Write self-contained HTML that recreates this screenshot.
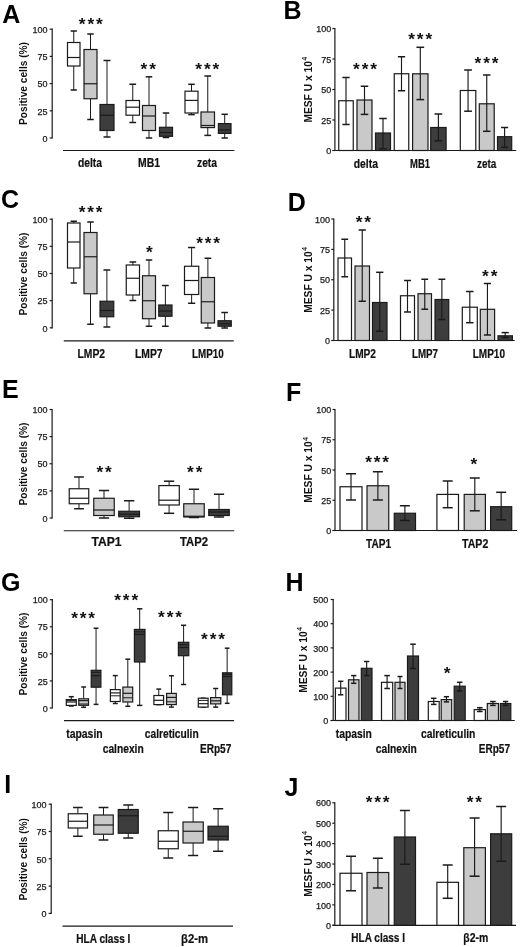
<!DOCTYPE html>
<html><head><meta charset="utf-8"><title>Figure</title>
<style>
html,body{margin:0;padding:0;background:#fff;}
body{width:520px;height:947px;overflow:hidden;}
svg{display:block;font-family:"Liberation Sans", sans-serif;will-change:transform;}
</style></head>
<body>
<svg width="520" height="947" viewBox="0 0 520 947" fill="#111">
<rect width="520" height="947" fill="#fff"/>
<text x="2.17" y="22.50" font-size="25.0" font-weight="bold" text-anchor="start" fill="#000">A</text>
<line x1="52.20" y1="28.60" x2="52.20" y2="138.60" stroke="#1a1a1a" stroke-width="1.2"/>
<line x1="49.70" y1="138.00" x2="52.20" y2="138.00" stroke="#1a1a1a" stroke-width="1.2"/>
<text x="47.60" y="141.70" font-size="9.0" font-weight="normal" text-anchor="end" fill="#1a1a1a" stroke="#1a1a1a" stroke-width="0.25">0</text>
<line x1="49.70" y1="110.80" x2="52.20" y2="110.80" stroke="#1a1a1a" stroke-width="1.2"/>
<text x="47.60" y="114.50" font-size="9.0" font-weight="normal" text-anchor="end" fill="#1a1a1a" stroke="#1a1a1a" stroke-width="0.25">25</text>
<line x1="49.70" y1="83.60" x2="52.20" y2="83.60" stroke="#1a1a1a" stroke-width="1.2"/>
<text x="47.60" y="87.30" font-size="9.0" font-weight="normal" text-anchor="end" fill="#1a1a1a" stroke="#1a1a1a" stroke-width="0.25">50</text>
<line x1="49.70" y1="56.40" x2="52.20" y2="56.40" stroke="#1a1a1a" stroke-width="1.2"/>
<text x="47.60" y="60.11" font-size="9.0" font-weight="normal" text-anchor="end" fill="#1a1a1a" stroke="#1a1a1a" stroke-width="0.25">75</text>
<line x1="49.70" y1="29.20" x2="52.20" y2="29.20" stroke="#1a1a1a" stroke-width="1.2"/>
<text x="47.60" y="32.91" font-size="9.0" font-weight="normal" text-anchor="end" fill="#1a1a1a" stroke="#1a1a1a" stroke-width="0.25">100</text>
<text transform="translate(27.30 125.00) rotate(-90)" x="0" y="0" font-size="10.2" font-weight="bold" textLength="83.00" lengthAdjust="spacingAndGlyphs">Positive cells (%)</text>
<line x1="63.00" y1="150.50" x2="234.40" y2="150.50" stroke="#1a1a1a" stroke-width="1.2"/>
<line x1="73.75" y1="31.00" x2="73.75" y2="42.50" stroke="#1a1a1a" stroke-width="1.0"/>
<line x1="73.75" y1="66.00" x2="73.75" y2="90.00" stroke="#1a1a1a" stroke-width="1.0"/>
<line x1="70.62" y1="31.00" x2="76.88" y2="31.00" stroke="#1a1a1a" stroke-width="1.5"/>
<line x1="70.62" y1="90.00" x2="76.88" y2="90.00" stroke="#1a1a1a" stroke-width="1.5"/>
<rect x="67.50" y="42.50" width="12.50" height="23.50" fill="#ffffff" stroke="#1a1a1a" stroke-width="1.2"/>
<line x1="67.50" y1="57.50" x2="80.00" y2="57.50" stroke="#1a1a1a" stroke-width="1.2"/>
<line x1="90.50" y1="34.00" x2="90.50" y2="49.50" stroke="#1a1a1a" stroke-width="1.0"/>
<line x1="90.50" y1="98.75" x2="90.50" y2="119.50" stroke="#1a1a1a" stroke-width="1.0"/>
<line x1="87.25" y1="34.00" x2="93.75" y2="34.00" stroke="#1a1a1a" stroke-width="1.5"/>
<line x1="87.25" y1="119.50" x2="93.75" y2="119.50" stroke="#1a1a1a" stroke-width="1.5"/>
<rect x="84.00" y="49.50" width="13.00" height="49.25" fill="#c9c9c9" stroke="#1a1a1a" stroke-width="1.2"/>
<line x1="84.00" y1="83.75" x2="97.00" y2="83.75" stroke="#1a1a1a" stroke-width="1.2"/>
<line x1="107.00" y1="60.50" x2="107.00" y2="104.50" stroke="#1a1a1a" stroke-width="1.0"/>
<line x1="107.00" y1="130.50" x2="107.00" y2="137.00" stroke="#1a1a1a" stroke-width="1.0"/>
<line x1="103.50" y1="60.50" x2="110.50" y2="60.50" stroke="#1a1a1a" stroke-width="1.5"/>
<line x1="103.50" y1="137.00" x2="110.50" y2="137.00" stroke="#1a1a1a" stroke-width="1.5"/>
<rect x="100.00" y="104.50" width="14.00" height="26.00" fill="#3d3d3d" stroke="#1a1a1a" stroke-width="1.2"/>
<line x1="100.00" y1="115.30" x2="114.00" y2="115.30" stroke="#1a1a1a" stroke-width="1.2"/>
<line x1="132.75" y1="84.25" x2="132.75" y2="100.50" stroke="#1a1a1a" stroke-width="1.0"/>
<line x1="132.75" y1="115.20" x2="132.75" y2="122.50" stroke="#1a1a1a" stroke-width="1.0"/>
<line x1="129.38" y1="84.25" x2="136.12" y2="84.25" stroke="#1a1a1a" stroke-width="1.5"/>
<line x1="129.38" y1="122.50" x2="136.12" y2="122.50" stroke="#1a1a1a" stroke-width="1.5"/>
<rect x="126.00" y="100.50" width="13.50" height="14.70" fill="#ffffff" stroke="#1a1a1a" stroke-width="1.2"/>
<line x1="126.00" y1="107.20" x2="139.50" y2="107.20" stroke="#1a1a1a" stroke-width="1.2"/>
<line x1="149.00" y1="76.80" x2="149.00" y2="105.50" stroke="#1a1a1a" stroke-width="1.0"/>
<line x1="149.00" y1="130.50" x2="149.00" y2="138.00" stroke="#1a1a1a" stroke-width="1.0"/>
<line x1="145.75" y1="76.80" x2="152.25" y2="76.80" stroke="#1a1a1a" stroke-width="1.5"/>
<line x1="145.75" y1="138.00" x2="152.25" y2="138.00" stroke="#1a1a1a" stroke-width="1.5"/>
<rect x="142.50" y="105.50" width="13.00" height="25.00" fill="#c9c9c9" stroke="#1a1a1a" stroke-width="1.2"/>
<line x1="142.50" y1="116.00" x2="155.50" y2="116.00" stroke="#1a1a1a" stroke-width="1.2"/>
<line x1="166.00" y1="113.00" x2="166.00" y2="127.30" stroke="#1a1a1a" stroke-width="1.0"/>
<line x1="166.00" y1="136.30" x2="166.00" y2="137.50" stroke="#1a1a1a" stroke-width="1.0"/>
<line x1="162.75" y1="113.00" x2="169.25" y2="113.00" stroke="#1a1a1a" stroke-width="1.5"/>
<line x1="162.75" y1="137.50" x2="169.25" y2="137.50" stroke="#1a1a1a" stroke-width="1.5"/>
<rect x="159.50" y="127.30" width="13.00" height="9.00" fill="#3d3d3d" stroke="#1a1a1a" stroke-width="1.2"/>
<line x1="159.50" y1="132.50" x2="172.50" y2="132.50" stroke="#1a1a1a" stroke-width="1.2"/>
<line x1="191.50" y1="84.30" x2="191.50" y2="91.20" stroke="#1a1a1a" stroke-width="1.0"/>
<line x1="191.50" y1="113.00" x2="191.50" y2="114.60" stroke="#1a1a1a" stroke-width="1.0"/>
<line x1="188.25" y1="84.30" x2="194.75" y2="84.30" stroke="#1a1a1a" stroke-width="1.5"/>
<line x1="188.25" y1="114.60" x2="194.75" y2="114.60" stroke="#1a1a1a" stroke-width="1.5"/>
<rect x="185.00" y="91.20" width="13.00" height="21.80" fill="#ffffff" stroke="#1a1a1a" stroke-width="1.2"/>
<line x1="185.00" y1="100.40" x2="198.00" y2="100.40" stroke="#1a1a1a" stroke-width="1.2"/>
<line x1="207.75" y1="76.00" x2="207.75" y2="112.00" stroke="#1a1a1a" stroke-width="1.0"/>
<line x1="207.75" y1="127.60" x2="207.75" y2="135.40" stroke="#1a1a1a" stroke-width="1.0"/>
<line x1="204.38" y1="76.00" x2="211.12" y2="76.00" stroke="#1a1a1a" stroke-width="1.5"/>
<line x1="204.38" y1="135.40" x2="211.12" y2="135.40" stroke="#1a1a1a" stroke-width="1.5"/>
<rect x="201.00" y="112.00" width="13.50" height="15.60" fill="#c9c9c9" stroke="#1a1a1a" stroke-width="1.2"/>
<line x1="201.00" y1="125.50" x2="214.50" y2="125.50" stroke="#1a1a1a" stroke-width="1.2"/>
<line x1="224.70" y1="114.30" x2="224.70" y2="123.60" stroke="#1a1a1a" stroke-width="1.0"/>
<line x1="224.70" y1="133.40" x2="224.70" y2="138.00" stroke="#1a1a1a" stroke-width="1.0"/>
<line x1="221.55" y1="114.30" x2="227.85" y2="114.30" stroke="#1a1a1a" stroke-width="1.5"/>
<line x1="221.55" y1="138.00" x2="227.85" y2="138.00" stroke="#1a1a1a" stroke-width="1.5"/>
<rect x="218.40" y="123.60" width="12.60" height="9.80" fill="#3d3d3d" stroke="#1a1a1a" stroke-width="1.2"/>
<line x1="218.40" y1="130.00" x2="231.00" y2="130.00" stroke="#1a1a1a" stroke-width="1.2"/>
<text x="78.78" y="30.39" font-size="17.3" font-weight="bold" fill="#111">*</text>
<text x="87.38" y="30.39" font-size="17.3" font-weight="bold" fill="#111">*</text>
<text x="95.98" y="30.39" font-size="17.3" font-weight="bold" fill="#111">*</text>
<text x="140.58" y="75.09" font-size="17.3" font-weight="bold" fill="#111">*</text>
<text x="149.18" y="75.09" font-size="17.3" font-weight="bold" fill="#111">*</text>
<text x="195.28" y="75.09" font-size="17.3" font-weight="bold" fill="#111">*</text>
<text x="203.88" y="75.09" font-size="17.3" font-weight="bold" fill="#111">*</text>
<text x="212.48" y="75.09" font-size="17.3" font-weight="bold" fill="#111">*</text>
<text x="283.62" y="19.40" font-size="25.0" font-weight="bold" text-anchor="start" fill="#000">B</text>
<line x1="334.90" y1="27.90" x2="334.90" y2="151.10" stroke="#1a1a1a" stroke-width="1.2"/>
<line x1="332.40" y1="150.50" x2="334.90" y2="150.50" stroke="#1a1a1a" stroke-width="1.2"/>
<text x="331.20" y="154.20" font-size="9.0" font-weight="normal" text-anchor="end" fill="#1a1a1a" stroke="#1a1a1a" stroke-width="0.25">0</text>
<line x1="332.40" y1="120.00" x2="334.90" y2="120.00" stroke="#1a1a1a" stroke-width="1.2"/>
<text x="331.20" y="123.70" font-size="9.0" font-weight="normal" text-anchor="end" fill="#1a1a1a" stroke="#1a1a1a" stroke-width="0.25">25</text>
<line x1="332.40" y1="89.50" x2="334.90" y2="89.50" stroke="#1a1a1a" stroke-width="1.2"/>
<text x="331.20" y="93.20" font-size="9.0" font-weight="normal" text-anchor="end" fill="#1a1a1a" stroke="#1a1a1a" stroke-width="0.25">50</text>
<line x1="332.40" y1="59.00" x2="334.90" y2="59.00" stroke="#1a1a1a" stroke-width="1.2"/>
<text x="331.20" y="62.70" font-size="9.0" font-weight="normal" text-anchor="end" fill="#1a1a1a" stroke="#1a1a1a" stroke-width="0.25">75</text>
<line x1="332.40" y1="28.50" x2="334.90" y2="28.50" stroke="#1a1a1a" stroke-width="1.2"/>
<text x="331.20" y="32.20" font-size="9.0" font-weight="normal" text-anchor="end" fill="#1a1a1a" stroke="#1a1a1a" stroke-width="0.25">100</text>
<g transform="translate(312.00 122.60) rotate(-90)"><text x="0" y="0" font-size="10.2" font-weight="bold" textLength="61.50" lengthAdjust="spacingAndGlyphs">MESF U x 10</text><text x="62.10" y="-4.60" font-size="6.5" font-weight="bold">4</text></g>
<line x1="332.50" y1="150.50" x2="516.20" y2="150.50" stroke="#1a1a1a" stroke-width="1.2"/>
<rect x="338.75" y="100.75" width="14.50" height="49.75" fill="#ffffff" stroke="#1a1a1a" stroke-width="1.2"/>
<line x1="346.00" y1="77.50" x2="346.00" y2="124.50" stroke="#1a1a1a" stroke-width="1.15"/>
<line x1="342.38" y1="77.50" x2="349.62" y2="77.50" stroke="#1a1a1a" stroke-width="1.5"/>
<line x1="342.38" y1="124.50" x2="349.62" y2="124.50" stroke="#1a1a1a" stroke-width="1.5"/>
<rect x="357.00" y="100.00" width="15.00" height="50.50" fill="#c9c9c9" stroke="#1a1a1a" stroke-width="1.2"/>
<line x1="364.50" y1="86.25" x2="364.50" y2="114.40" stroke="#1a1a1a" stroke-width="1.15"/>
<line x1="360.75" y1="86.25" x2="368.25" y2="86.25" stroke="#1a1a1a" stroke-width="1.5"/>
<line x1="360.75" y1="114.40" x2="368.25" y2="114.40" stroke="#1a1a1a" stroke-width="1.5"/>
<rect x="375.50" y="133.00" width="15.00" height="17.50" fill="#3d3d3d" stroke="#1a1a1a" stroke-width="1.2"/>
<line x1="383.00" y1="118.50" x2="383.00" y2="148.75" stroke="#1a1a1a" stroke-width="1.15"/>
<line x1="379.25" y1="118.50" x2="386.75" y2="118.50" stroke="#1a1a1a" stroke-width="1.5"/>
<line x1="379.25" y1="148.75" x2="386.75" y2="148.75" stroke="#1a1a1a" stroke-width="1.5"/>
<rect x="394.25" y="73.75" width="14.50" height="76.75" fill="#ffffff" stroke="#1a1a1a" stroke-width="1.2"/>
<line x1="401.50" y1="56.75" x2="401.50" y2="90.75" stroke="#1a1a1a" stroke-width="1.15"/>
<line x1="397.88" y1="56.75" x2="405.12" y2="56.75" stroke="#1a1a1a" stroke-width="1.5"/>
<line x1="397.88" y1="90.75" x2="405.12" y2="90.75" stroke="#1a1a1a" stroke-width="1.5"/>
<rect x="412.60" y="73.80" width="15.40" height="76.70" fill="#c9c9c9" stroke="#1a1a1a" stroke-width="1.2"/>
<line x1="420.30" y1="47.30" x2="420.30" y2="99.60" stroke="#1a1a1a" stroke-width="1.15"/>
<line x1="416.45" y1="47.30" x2="424.15" y2="47.30" stroke="#1a1a1a" stroke-width="1.5"/>
<line x1="416.45" y1="99.60" x2="424.15" y2="99.60" stroke="#1a1a1a" stroke-width="1.5"/>
<rect x="430.70" y="127.50" width="15.40" height="23.00" fill="#3d3d3d" stroke="#1a1a1a" stroke-width="1.2"/>
<line x1="438.40" y1="114.00" x2="438.40" y2="140.80" stroke="#1a1a1a" stroke-width="1.15"/>
<line x1="434.55" y1="114.00" x2="442.25" y2="114.00" stroke="#1a1a1a" stroke-width="1.5"/>
<line x1="434.55" y1="140.80" x2="442.25" y2="140.80" stroke="#1a1a1a" stroke-width="1.5"/>
<rect x="460.30" y="90.50" width="15.50" height="60.00" fill="#ffffff" stroke="#1a1a1a" stroke-width="1.2"/>
<line x1="468.05" y1="70.00" x2="468.05" y2="111.20" stroke="#1a1a1a" stroke-width="1.15"/>
<line x1="464.18" y1="70.00" x2="471.93" y2="70.00" stroke="#1a1a1a" stroke-width="1.5"/>
<line x1="464.18" y1="111.20" x2="471.93" y2="111.20" stroke="#1a1a1a" stroke-width="1.5"/>
<rect x="479.30" y="103.80" width="14.90" height="46.70" fill="#c9c9c9" stroke="#1a1a1a" stroke-width="1.2"/>
<line x1="486.75" y1="75.00" x2="486.75" y2="131.30" stroke="#1a1a1a" stroke-width="1.15"/>
<line x1="483.02" y1="75.00" x2="490.48" y2="75.00" stroke="#1a1a1a" stroke-width="1.5"/>
<line x1="483.02" y1="131.30" x2="490.48" y2="131.30" stroke="#1a1a1a" stroke-width="1.5"/>
<rect x="497.50" y="136.70" width="14.20" height="13.80" fill="#3d3d3d" stroke="#1a1a1a" stroke-width="1.2"/>
<line x1="504.60" y1="127.50" x2="504.60" y2="147.30" stroke="#1a1a1a" stroke-width="1.15"/>
<line x1="501.05" y1="127.50" x2="508.15" y2="127.50" stroke="#1a1a1a" stroke-width="1.5"/>
<line x1="501.05" y1="147.30" x2="508.15" y2="147.30" stroke="#1a1a1a" stroke-width="1.5"/>
<text x="353.03" y="75.09" font-size="17.3" font-weight="bold" fill="#111">*</text>
<text x="361.63" y="75.09" font-size="17.3" font-weight="bold" fill="#111">*</text>
<text x="370.23" y="75.09" font-size="17.3" font-weight="bold" fill="#111">*</text>
<text x="408.23" y="45.29" font-size="17.3" font-weight="bold" fill="#111">*</text>
<text x="416.83" y="45.29" font-size="17.3" font-weight="bold" fill="#111">*</text>
<text x="425.43" y="45.29" font-size="17.3" font-weight="bold" fill="#111">*</text>
<text x="474.53" y="69.39" font-size="17.3" font-weight="bold" fill="#111">*</text>
<text x="483.13" y="69.39" font-size="17.3" font-weight="bold" fill="#111">*</text>
<text x="491.73" y="69.39" font-size="17.3" font-weight="bold" fill="#111">*</text>
<text x="0.97" y="208.25" font-size="25.0" font-weight="bold" text-anchor="start" fill="#000">C</text>
<line x1="52.20" y1="218.60" x2="52.20" y2="328.40" stroke="#1a1a1a" stroke-width="1.2"/>
<line x1="49.70" y1="327.80" x2="52.20" y2="327.80" stroke="#1a1a1a" stroke-width="1.2"/>
<text x="47.60" y="331.51" font-size="9.0" font-weight="normal" text-anchor="end" fill="#1a1a1a" stroke="#1a1a1a" stroke-width="0.25">0</text>
<line x1="49.70" y1="300.65" x2="52.20" y2="300.65" stroke="#1a1a1a" stroke-width="1.2"/>
<text x="47.60" y="304.36" font-size="9.0" font-weight="normal" text-anchor="end" fill="#1a1a1a" stroke="#1a1a1a" stroke-width="0.25">25</text>
<line x1="49.70" y1="273.50" x2="52.20" y2="273.50" stroke="#1a1a1a" stroke-width="1.2"/>
<text x="47.60" y="277.21" font-size="9.0" font-weight="normal" text-anchor="end" fill="#1a1a1a" stroke="#1a1a1a" stroke-width="0.25">50</text>
<line x1="49.70" y1="246.35" x2="52.20" y2="246.35" stroke="#1a1a1a" stroke-width="1.2"/>
<text x="47.60" y="250.05" font-size="9.0" font-weight="normal" text-anchor="end" fill="#1a1a1a" stroke="#1a1a1a" stroke-width="0.25">75</text>
<line x1="49.70" y1="219.20" x2="52.20" y2="219.20" stroke="#1a1a1a" stroke-width="1.2"/>
<text x="47.60" y="222.90" font-size="9.0" font-weight="normal" text-anchor="end" fill="#1a1a1a" stroke="#1a1a1a" stroke-width="0.25">100</text>
<text transform="translate(27.30 315.50) rotate(-90)" x="0" y="0" font-size="10.2" font-weight="bold" textLength="83.00" lengthAdjust="spacingAndGlyphs">Positive cells (%)</text>
<line x1="63.75" y1="340.80" x2="233.75" y2="340.80" stroke="#1a1a1a" stroke-width="1.2"/>
<line x1="73.75" y1="221.25" x2="73.75" y2="223.00" stroke="#1a1a1a" stroke-width="1.0"/>
<line x1="73.75" y1="268.00" x2="73.75" y2="283.00" stroke="#1a1a1a" stroke-width="1.0"/>
<line x1="70.62" y1="221.25" x2="76.88" y2="221.25" stroke="#1a1a1a" stroke-width="1.5"/>
<line x1="70.62" y1="283.00" x2="76.88" y2="283.00" stroke="#1a1a1a" stroke-width="1.5"/>
<rect x="67.50" y="223.00" width="12.50" height="45.00" fill="#ffffff" stroke="#1a1a1a" stroke-width="1.2"/>
<line x1="67.50" y1="242.00" x2="80.00" y2="242.00" stroke="#1a1a1a" stroke-width="1.2"/>
<line x1="90.50" y1="222.00" x2="90.50" y2="232.50" stroke="#1a1a1a" stroke-width="1.0"/>
<line x1="90.50" y1="293.75" x2="90.50" y2="324.25" stroke="#1a1a1a" stroke-width="1.0"/>
<line x1="87.25" y1="222.00" x2="93.75" y2="222.00" stroke="#1a1a1a" stroke-width="1.5"/>
<line x1="87.25" y1="324.25" x2="93.75" y2="324.25" stroke="#1a1a1a" stroke-width="1.5"/>
<rect x="84.00" y="232.50" width="13.00" height="61.25" fill="#c9c9c9" stroke="#1a1a1a" stroke-width="1.2"/>
<line x1="84.00" y1="256.75" x2="97.00" y2="256.75" stroke="#1a1a1a" stroke-width="1.2"/>
<line x1="106.88" y1="270.00" x2="106.88" y2="301.25" stroke="#1a1a1a" stroke-width="1.0"/>
<line x1="106.88" y1="316.75" x2="106.88" y2="327.00" stroke="#1a1a1a" stroke-width="1.0"/>
<line x1="103.44" y1="270.00" x2="110.31" y2="270.00" stroke="#1a1a1a" stroke-width="1.5"/>
<line x1="103.44" y1="327.00" x2="110.31" y2="327.00" stroke="#1a1a1a" stroke-width="1.5"/>
<rect x="100.00" y="301.25" width="13.75" height="15.50" fill="#3d3d3d" stroke="#1a1a1a" stroke-width="1.2"/>
<line x1="100.00" y1="310.50" x2="113.75" y2="310.50" stroke="#1a1a1a" stroke-width="1.2"/>
<line x1="132.88" y1="262.00" x2="132.88" y2="265.00" stroke="#1a1a1a" stroke-width="1.0"/>
<line x1="132.88" y1="295.00" x2="132.88" y2="300.50" stroke="#1a1a1a" stroke-width="1.0"/>
<line x1="129.56" y1="262.00" x2="136.19" y2="262.00" stroke="#1a1a1a" stroke-width="1.5"/>
<line x1="129.56" y1="300.50" x2="136.19" y2="300.50" stroke="#1a1a1a" stroke-width="1.5"/>
<rect x="126.25" y="265.00" width="13.25" height="30.00" fill="#ffffff" stroke="#1a1a1a" stroke-width="1.2"/>
<line x1="126.25" y1="278.25" x2="139.50" y2="278.25" stroke="#1a1a1a" stroke-width="1.2"/>
<line x1="149.00" y1="260.00" x2="149.00" y2="275.75" stroke="#1a1a1a" stroke-width="1.0"/>
<line x1="149.00" y1="318.75" x2="149.00" y2="326.25" stroke="#1a1a1a" stroke-width="1.0"/>
<line x1="145.75" y1="260.00" x2="152.25" y2="260.00" stroke="#1a1a1a" stroke-width="1.5"/>
<line x1="145.75" y1="326.25" x2="152.25" y2="326.25" stroke="#1a1a1a" stroke-width="1.5"/>
<rect x="142.50" y="275.75" width="13.00" height="43.00" fill="#c9c9c9" stroke="#1a1a1a" stroke-width="1.2"/>
<line x1="142.50" y1="300.75" x2="155.50" y2="300.75" stroke="#1a1a1a" stroke-width="1.2"/>
<line x1="165.38" y1="285.50" x2="165.38" y2="305.00" stroke="#1a1a1a" stroke-width="1.0"/>
<line x1="165.38" y1="316.25" x2="165.38" y2="326.25" stroke="#1a1a1a" stroke-width="1.0"/>
<line x1="162.06" y1="285.50" x2="168.69" y2="285.50" stroke="#1a1a1a" stroke-width="1.5"/>
<line x1="162.06" y1="326.25" x2="168.69" y2="326.25" stroke="#1a1a1a" stroke-width="1.5"/>
<rect x="158.75" y="305.00" width="13.25" height="11.25" fill="#3d3d3d" stroke="#1a1a1a" stroke-width="1.2"/>
<line x1="158.75" y1="311.00" x2="172.00" y2="311.00" stroke="#1a1a1a" stroke-width="1.2"/>
<line x1="191.62" y1="247.50" x2="191.62" y2="266.25" stroke="#1a1a1a" stroke-width="1.0"/>
<line x1="191.62" y1="294.50" x2="191.62" y2="303.25" stroke="#1a1a1a" stroke-width="1.0"/>
<line x1="188.06" y1="247.50" x2="195.19" y2="247.50" stroke="#1a1a1a" stroke-width="1.5"/>
<line x1="188.06" y1="303.25" x2="195.19" y2="303.25" stroke="#1a1a1a" stroke-width="1.5"/>
<rect x="184.50" y="266.25" width="14.25" height="28.25" fill="#ffffff" stroke="#1a1a1a" stroke-width="1.2"/>
<line x1="184.50" y1="280.50" x2="198.75" y2="280.50" stroke="#1a1a1a" stroke-width="1.2"/>
<line x1="207.88" y1="258.25" x2="207.88" y2="277.50" stroke="#1a1a1a" stroke-width="1.0"/>
<line x1="207.88" y1="323.00" x2="207.88" y2="328.00" stroke="#1a1a1a" stroke-width="1.0"/>
<line x1="204.56" y1="258.25" x2="211.19" y2="258.25" stroke="#1a1a1a" stroke-width="1.5"/>
<line x1="204.56" y1="328.00" x2="211.19" y2="328.00" stroke="#1a1a1a" stroke-width="1.5"/>
<rect x="201.25" y="277.50" width="13.25" height="45.50" fill="#c9c9c9" stroke="#1a1a1a" stroke-width="1.2"/>
<line x1="201.25" y1="301.75" x2="214.50" y2="301.75" stroke="#1a1a1a" stroke-width="1.2"/>
<line x1="224.62" y1="312.50" x2="224.62" y2="320.75" stroke="#1a1a1a" stroke-width="1.0"/>
<line x1="224.62" y1="326.25" x2="224.62" y2="328.00" stroke="#1a1a1a" stroke-width="1.0"/>
<line x1="221.31" y1="312.50" x2="227.94" y2="312.50" stroke="#1a1a1a" stroke-width="1.5"/>
<line x1="221.31" y1="328.00" x2="227.94" y2="328.00" stroke="#1a1a1a" stroke-width="1.5"/>
<rect x="218.00" y="320.75" width="13.25" height="5.50" fill="#3d3d3d" stroke="#1a1a1a" stroke-width="1.2"/>
<line x1="218.00" y1="323.75" x2="231.25" y2="323.75" stroke="#1a1a1a" stroke-width="1.2"/>
<text x="78.63" y="218.39" font-size="17.3" font-weight="bold" fill="#111">*</text>
<text x="87.23" y="218.39" font-size="17.3" font-weight="bold" fill="#111">*</text>
<text x="95.83" y="218.39" font-size="17.3" font-weight="bold" fill="#111">*</text>
<text x="145.88" y="257.69" font-size="17.3" font-weight="bold" fill="#111">*</text>
<text x="196.13" y="249.09" font-size="17.3" font-weight="bold" fill="#111">*</text>
<text x="204.73" y="249.09" font-size="17.3" font-weight="bold" fill="#111">*</text>
<text x="213.33" y="249.09" font-size="17.3" font-weight="bold" fill="#111">*</text>
<text x="287.68" y="211.40" font-size="25.0" font-weight="bold" text-anchor="start" fill="#000">D</text>
<line x1="333.80" y1="218.40" x2="333.80" y2="341.10" stroke="#1a1a1a" stroke-width="1.2"/>
<line x1="331.30" y1="340.50" x2="333.80" y2="340.50" stroke="#1a1a1a" stroke-width="1.2"/>
<text x="330.10" y="344.21" font-size="9.0" font-weight="normal" text-anchor="end" fill="#1a1a1a" stroke="#1a1a1a" stroke-width="0.25">0</text>
<line x1="331.30" y1="310.12" x2="333.80" y2="310.12" stroke="#1a1a1a" stroke-width="1.2"/>
<text x="330.10" y="313.83" font-size="9.0" font-weight="normal" text-anchor="end" fill="#1a1a1a" stroke="#1a1a1a" stroke-width="0.25">25</text>
<line x1="331.30" y1="279.75" x2="333.80" y2="279.75" stroke="#1a1a1a" stroke-width="1.2"/>
<text x="330.10" y="283.46" font-size="9.0" font-weight="normal" text-anchor="end" fill="#1a1a1a" stroke="#1a1a1a" stroke-width="0.25">50</text>
<line x1="331.30" y1="249.38" x2="333.80" y2="249.38" stroke="#1a1a1a" stroke-width="1.2"/>
<text x="330.10" y="253.08" font-size="9.0" font-weight="normal" text-anchor="end" fill="#1a1a1a" stroke="#1a1a1a" stroke-width="0.25">75</text>
<line x1="331.30" y1="219.00" x2="333.80" y2="219.00" stroke="#1a1a1a" stroke-width="1.2"/>
<text x="330.10" y="222.70" font-size="9.0" font-weight="normal" text-anchor="end" fill="#1a1a1a" stroke="#1a1a1a" stroke-width="0.25">100</text>
<g transform="translate(312.00 312.80) rotate(-90)"><text x="0" y="0" font-size="10.2" font-weight="bold" textLength="61.50" lengthAdjust="spacingAndGlyphs">MESF U x 10</text><text x="62.10" y="-4.60" font-size="6.5" font-weight="bold">4</text></g>
<line x1="331.50" y1="340.50" x2="514.70" y2="340.50" stroke="#1a1a1a" stroke-width="1.2"/>
<rect x="338.00" y="258.00" width="13.50" height="82.50" fill="#ffffff" stroke="#1a1a1a" stroke-width="1.2"/>
<line x1="344.75" y1="239.25" x2="344.75" y2="276.75" stroke="#1a1a1a" stroke-width="1.15"/>
<line x1="341.38" y1="239.25" x2="348.12" y2="239.25" stroke="#1a1a1a" stroke-width="1.5"/>
<line x1="341.38" y1="276.75" x2="348.12" y2="276.75" stroke="#1a1a1a" stroke-width="1.5"/>
<rect x="355.00" y="266.00" width="14.50" height="74.50" fill="#c9c9c9" stroke="#1a1a1a" stroke-width="1.2"/>
<line x1="362.25" y1="230.00" x2="362.25" y2="301.25" stroke="#1a1a1a" stroke-width="1.15"/>
<line x1="358.62" y1="230.00" x2="365.88" y2="230.00" stroke="#1a1a1a" stroke-width="1.5"/>
<line x1="358.62" y1="301.25" x2="365.88" y2="301.25" stroke="#1a1a1a" stroke-width="1.5"/>
<rect x="372.50" y="302.50" width="14.50" height="38.00" fill="#3d3d3d" stroke="#1a1a1a" stroke-width="1.2"/>
<line x1="379.75" y1="272.30" x2="379.75" y2="331.25" stroke="#1a1a1a" stroke-width="1.15"/>
<line x1="376.12" y1="272.30" x2="383.38" y2="272.30" stroke="#1a1a1a" stroke-width="1.5"/>
<line x1="376.12" y1="331.25" x2="383.38" y2="331.25" stroke="#1a1a1a" stroke-width="1.5"/>
<rect x="400.50" y="295.75" width="14.00" height="44.75" fill="#ffffff" stroke="#1a1a1a" stroke-width="1.2"/>
<line x1="407.50" y1="280.50" x2="407.50" y2="312.00" stroke="#1a1a1a" stroke-width="1.15"/>
<line x1="404.00" y1="280.50" x2="411.00" y2="280.50" stroke="#1a1a1a" stroke-width="1.5"/>
<line x1="404.00" y1="312.00" x2="411.00" y2="312.00" stroke="#1a1a1a" stroke-width="1.5"/>
<rect x="418.00" y="293.75" width="13.50" height="46.75" fill="#c9c9c9" stroke="#1a1a1a" stroke-width="1.2"/>
<line x1="424.75" y1="279.25" x2="424.75" y2="309.25" stroke="#1a1a1a" stroke-width="1.15"/>
<line x1="421.38" y1="279.25" x2="428.12" y2="279.25" stroke="#1a1a1a" stroke-width="1.5"/>
<line x1="421.38" y1="309.25" x2="428.12" y2="309.25" stroke="#1a1a1a" stroke-width="1.5"/>
<rect x="435.00" y="299.50" width="13.75" height="41.00" fill="#3d3d3d" stroke="#1a1a1a" stroke-width="1.2"/>
<line x1="441.88" y1="279.25" x2="441.88" y2="319.50" stroke="#1a1a1a" stroke-width="1.15"/>
<line x1="438.44" y1="279.25" x2="445.31" y2="279.25" stroke="#1a1a1a" stroke-width="1.5"/>
<line x1="438.44" y1="319.50" x2="445.31" y2="319.50" stroke="#1a1a1a" stroke-width="1.5"/>
<rect x="462.30" y="307.20" width="15.00" height="33.30" fill="#ffffff" stroke="#1a1a1a" stroke-width="1.2"/>
<line x1="469.80" y1="291.50" x2="469.80" y2="322.70" stroke="#1a1a1a" stroke-width="1.15"/>
<line x1="466.05" y1="291.50" x2="473.55" y2="291.50" stroke="#1a1a1a" stroke-width="1.5"/>
<line x1="466.05" y1="322.70" x2="473.55" y2="322.70" stroke="#1a1a1a" stroke-width="1.5"/>
<rect x="480.30" y="309.30" width="14.30" height="31.20" fill="#c9c9c9" stroke="#1a1a1a" stroke-width="1.2"/>
<line x1="487.45" y1="283.50" x2="487.45" y2="335.00" stroke="#1a1a1a" stroke-width="1.15"/>
<line x1="483.88" y1="283.50" x2="491.03" y2="283.50" stroke="#1a1a1a" stroke-width="1.5"/>
<line x1="483.88" y1="335.00" x2="491.03" y2="335.00" stroke="#1a1a1a" stroke-width="1.5"/>
<rect x="498.00" y="335.80" width="14.40" height="4.70" fill="#3d3d3d" stroke="#1a1a1a" stroke-width="1.2"/>
<line x1="505.20" y1="332.60" x2="505.20" y2="337.50" stroke="#1a1a1a" stroke-width="1.15"/>
<line x1="501.60" y1="332.60" x2="508.80" y2="332.60" stroke="#1a1a1a" stroke-width="1.5"/>
<line x1="501.60" y1="337.50" x2="508.80" y2="337.50" stroke="#1a1a1a" stroke-width="1.5"/>
<text x="355.73" y="227.69" font-size="17.3" font-weight="bold" fill="#111">*</text>
<text x="364.33" y="227.69" font-size="17.3" font-weight="bold" fill="#111">*</text>
<text x="482.03" y="282.09" font-size="17.3" font-weight="bold" fill="#111">*</text>
<text x="490.63" y="282.09" font-size="17.3" font-weight="bold" fill="#111">*</text>
<text x="1.91" y="397.50" font-size="25.0" font-weight="bold" text-anchor="start" fill="#000">E</text>
<line x1="52.10" y1="408.90" x2="52.10" y2="518.60" stroke="#1a1a1a" stroke-width="1.2"/>
<line x1="49.60" y1="518.00" x2="52.10" y2="518.00" stroke="#1a1a1a" stroke-width="1.2"/>
<text x="47.50" y="521.71" font-size="9.0" font-weight="normal" text-anchor="end" fill="#1a1a1a" stroke="#1a1a1a" stroke-width="0.25">0</text>
<line x1="49.60" y1="490.88" x2="52.10" y2="490.88" stroke="#1a1a1a" stroke-width="1.2"/>
<text x="47.50" y="494.58" font-size="9.0" font-weight="normal" text-anchor="end" fill="#1a1a1a" stroke="#1a1a1a" stroke-width="0.25">25</text>
<line x1="49.60" y1="463.75" x2="52.10" y2="463.75" stroke="#1a1a1a" stroke-width="1.2"/>
<text x="47.50" y="467.46" font-size="9.0" font-weight="normal" text-anchor="end" fill="#1a1a1a" stroke="#1a1a1a" stroke-width="0.25">50</text>
<line x1="49.60" y1="436.62" x2="52.10" y2="436.62" stroke="#1a1a1a" stroke-width="1.2"/>
<text x="47.50" y="440.33" font-size="9.0" font-weight="normal" text-anchor="end" fill="#1a1a1a" stroke="#1a1a1a" stroke-width="0.25">75</text>
<line x1="49.60" y1="409.50" x2="52.10" y2="409.50" stroke="#1a1a1a" stroke-width="1.2"/>
<text x="47.50" y="413.21" font-size="9.0" font-weight="normal" text-anchor="end" fill="#1a1a1a" stroke="#1a1a1a" stroke-width="0.25">100</text>
<text transform="translate(27.30 505.50) rotate(-90)" x="0" y="0" font-size="10.2" font-weight="bold" textLength="83.00" lengthAdjust="spacingAndGlyphs">Positive cells (%)</text>
<line x1="63.75" y1="530.75" x2="234.25" y2="530.75" stroke="#1a1a1a" stroke-width="1.2"/>
<line x1="79.00" y1="477.00" x2="79.00" y2="488.75" stroke="#1a1a1a" stroke-width="1.0"/>
<line x1="79.00" y1="503.75" x2="79.00" y2="508.75" stroke="#1a1a1a" stroke-width="1.0"/>
<line x1="74.12" y1="477.00" x2="83.88" y2="477.00" stroke="#1a1a1a" stroke-width="1.5"/>
<line x1="74.12" y1="508.75" x2="83.88" y2="508.75" stroke="#1a1a1a" stroke-width="1.5"/>
<rect x="69.25" y="488.75" width="19.50" height="15.00" fill="#ffffff" stroke="#1a1a1a" stroke-width="1.2"/>
<line x1="69.25" y1="498.25" x2="88.75" y2="498.25" stroke="#1a1a1a" stroke-width="1.2"/>
<line x1="104.00" y1="490.50" x2="104.00" y2="498.25" stroke="#1a1a1a" stroke-width="1.0"/>
<line x1="104.00" y1="515.50" x2="104.00" y2="518.00" stroke="#1a1a1a" stroke-width="1.0"/>
<line x1="98.88" y1="490.50" x2="109.12" y2="490.50" stroke="#1a1a1a" stroke-width="1.5"/>
<line x1="98.88" y1="518.00" x2="109.12" y2="518.00" stroke="#1a1a1a" stroke-width="1.5"/>
<rect x="93.75" y="498.25" width="20.50" height="17.25" fill="#c9c9c9" stroke="#1a1a1a" stroke-width="1.2"/>
<line x1="93.75" y1="510.00" x2="114.25" y2="510.00" stroke="#1a1a1a" stroke-width="1.2"/>
<line x1="129.12" y1="500.75" x2="129.12" y2="511.25" stroke="#1a1a1a" stroke-width="1.0"/>
<line x1="129.12" y1="516.75" x2="129.12" y2="518.25" stroke="#1a1a1a" stroke-width="1.0"/>
<line x1="123.94" y1="500.75" x2="134.31" y2="500.75" stroke="#1a1a1a" stroke-width="1.5"/>
<line x1="123.94" y1="518.25" x2="134.31" y2="518.25" stroke="#1a1a1a" stroke-width="1.5"/>
<rect x="118.75" y="511.25" width="20.75" height="5.50" fill="#3d3d3d" stroke="#1a1a1a" stroke-width="1.2"/>
<line x1="118.75" y1="514.25" x2="139.50" y2="514.25" stroke="#1a1a1a" stroke-width="1.2"/>
<line x1="169.10" y1="481.20" x2="169.10" y2="485.60" stroke="#1a1a1a" stroke-width="1.0"/>
<line x1="169.10" y1="505.00" x2="169.10" y2="513.30" stroke="#1a1a1a" stroke-width="1.0"/>
<line x1="164.00" y1="481.20" x2="174.20" y2="481.20" stroke="#1a1a1a" stroke-width="1.5"/>
<line x1="164.00" y1="513.30" x2="174.20" y2="513.30" stroke="#1a1a1a" stroke-width="1.5"/>
<rect x="158.90" y="485.60" width="20.40" height="19.40" fill="#ffffff" stroke="#1a1a1a" stroke-width="1.2"/>
<line x1="158.90" y1="500.20" x2="179.30" y2="500.20" stroke="#1a1a1a" stroke-width="1.2"/>
<line x1="194.00" y1="489.25" x2="194.00" y2="503.75" stroke="#1a1a1a" stroke-width="1.0"/>
<line x1="194.00" y1="517.00" x2="194.00" y2="517.50" stroke="#1a1a1a" stroke-width="1.0"/>
<line x1="188.88" y1="489.25" x2="199.12" y2="489.25" stroke="#1a1a1a" stroke-width="1.5"/>
<line x1="188.88" y1="517.50" x2="199.12" y2="517.50" stroke="#1a1a1a" stroke-width="1.5"/>
<rect x="183.75" y="503.75" width="20.50" height="13.25" fill="#c9c9c9" stroke="#1a1a1a" stroke-width="1.2"/>
<line x1="183.75" y1="516.25" x2="204.25" y2="516.25" stroke="#1a1a1a" stroke-width="1.2"/>
<line x1="219.00" y1="494.25" x2="219.00" y2="509.50" stroke="#1a1a1a" stroke-width="1.0"/>
<line x1="219.00" y1="515.50" x2="219.00" y2="517.00" stroke="#1a1a1a" stroke-width="1.0"/>
<line x1="213.88" y1="494.25" x2="224.12" y2="494.25" stroke="#1a1a1a" stroke-width="1.5"/>
<line x1="213.88" y1="517.00" x2="224.12" y2="517.00" stroke="#1a1a1a" stroke-width="1.5"/>
<rect x="208.75" y="509.50" width="20.50" height="6.00" fill="#3d3d3d" stroke="#1a1a1a" stroke-width="1.2"/>
<line x1="208.75" y1="512.00" x2="229.25" y2="512.00" stroke="#1a1a1a" stroke-width="1.2"/>
<text x="96.43" y="477.69" font-size="17.3" font-weight="bold" fill="#111">*</text>
<text x="105.03" y="477.69" font-size="17.3" font-weight="bold" fill="#111">*</text>
<text x="187.08" y="477.69" font-size="17.3" font-weight="bold" fill="#111">*</text>
<text x="195.68" y="477.69" font-size="17.3" font-weight="bold" fill="#111">*</text>
<text x="285.91" y="400.90" font-size="25.0" font-weight="bold" text-anchor="start" fill="#000">F</text>
<line x1="335.00" y1="408.90" x2="335.00" y2="531.10" stroke="#1a1a1a" stroke-width="1.2"/>
<line x1="332.50" y1="530.50" x2="335.00" y2="530.50" stroke="#1a1a1a" stroke-width="1.2"/>
<text x="331.30" y="534.21" font-size="9.0" font-weight="normal" text-anchor="end" fill="#1a1a1a" stroke="#1a1a1a" stroke-width="0.25">0</text>
<line x1="332.50" y1="500.25" x2="335.00" y2="500.25" stroke="#1a1a1a" stroke-width="1.2"/>
<text x="331.30" y="503.96" font-size="9.0" font-weight="normal" text-anchor="end" fill="#1a1a1a" stroke="#1a1a1a" stroke-width="0.25">25</text>
<line x1="332.50" y1="470.00" x2="335.00" y2="470.00" stroke="#1a1a1a" stroke-width="1.2"/>
<text x="331.30" y="473.71" font-size="9.0" font-weight="normal" text-anchor="end" fill="#1a1a1a" stroke="#1a1a1a" stroke-width="0.25">50</text>
<line x1="332.50" y1="439.75" x2="335.00" y2="439.75" stroke="#1a1a1a" stroke-width="1.2"/>
<text x="331.30" y="443.46" font-size="9.0" font-weight="normal" text-anchor="end" fill="#1a1a1a" stroke="#1a1a1a" stroke-width="0.25">75</text>
<line x1="332.50" y1="409.50" x2="335.00" y2="409.50" stroke="#1a1a1a" stroke-width="1.2"/>
<text x="331.30" y="413.21" font-size="9.0" font-weight="normal" text-anchor="end" fill="#1a1a1a" stroke="#1a1a1a" stroke-width="0.25">100</text>
<g transform="translate(312.30 502.80) rotate(-90)"><text x="0" y="0" font-size="10.2" font-weight="bold" textLength="61.50" lengthAdjust="spacingAndGlyphs">MESF U x 10</text><text x="62.10" y="-4.60" font-size="6.5" font-weight="bold">4</text></g>
<line x1="332.50" y1="530.50" x2="517.00" y2="530.50" stroke="#1a1a1a" stroke-width="1.2"/>
<rect x="340.00" y="486.75" width="22.00" height="43.75" fill="#ffffff" stroke="#1a1a1a" stroke-width="1.2"/>
<line x1="351.00" y1="473.75" x2="351.00" y2="500.00" stroke="#1a1a1a" stroke-width="1.15"/>
<line x1="346.00" y1="473.75" x2="356.00" y2="473.75" stroke="#1a1a1a" stroke-width="1.5"/>
<line x1="346.00" y1="500.00" x2="356.00" y2="500.00" stroke="#1a1a1a" stroke-width="1.5"/>
<rect x="367.00" y="485.75" width="21.75" height="44.75" fill="#c9c9c9" stroke="#1a1a1a" stroke-width="1.2"/>
<line x1="377.88" y1="471.75" x2="377.88" y2="500.00" stroke="#1a1a1a" stroke-width="1.15"/>
<line x1="372.88" y1="471.75" x2="382.88" y2="471.75" stroke="#1a1a1a" stroke-width="1.5"/>
<line x1="372.88" y1="500.00" x2="382.88" y2="500.00" stroke="#1a1a1a" stroke-width="1.5"/>
<rect x="394.25" y="513.25" width="21.25" height="17.25" fill="#3d3d3d" stroke="#1a1a1a" stroke-width="1.2"/>
<line x1="404.88" y1="505.75" x2="404.88" y2="520.50" stroke="#1a1a1a" stroke-width="1.15"/>
<line x1="399.88" y1="505.75" x2="409.88" y2="505.75" stroke="#1a1a1a" stroke-width="1.5"/>
<line x1="399.88" y1="520.50" x2="409.88" y2="520.50" stroke="#1a1a1a" stroke-width="1.5"/>
<rect x="436.90" y="494.40" width="21.60" height="36.10" fill="#ffffff" stroke="#1a1a1a" stroke-width="1.2"/>
<line x1="447.70" y1="481.00" x2="447.70" y2="507.70" stroke="#1a1a1a" stroke-width="1.15"/>
<line x1="442.70" y1="481.00" x2="452.70" y2="481.00" stroke="#1a1a1a" stroke-width="1.5"/>
<line x1="442.70" y1="507.70" x2="452.70" y2="507.70" stroke="#1a1a1a" stroke-width="1.5"/>
<rect x="464.20" y="494.40" width="21.20" height="36.10" fill="#c9c9c9" stroke="#1a1a1a" stroke-width="1.2"/>
<line x1="474.80" y1="478.00" x2="474.80" y2="510.80" stroke="#1a1a1a" stroke-width="1.15"/>
<line x1="469.80" y1="478.00" x2="479.80" y2="478.00" stroke="#1a1a1a" stroke-width="1.5"/>
<line x1="469.80" y1="510.80" x2="479.80" y2="510.80" stroke="#1a1a1a" stroke-width="1.5"/>
<rect x="490.60" y="506.70" width="21.10" height="23.80" fill="#3d3d3d" stroke="#1a1a1a" stroke-width="1.2"/>
<line x1="501.15" y1="492.30" x2="501.15" y2="519.80" stroke="#1a1a1a" stroke-width="1.15"/>
<line x1="496.15" y1="492.30" x2="506.15" y2="492.30" stroke="#1a1a1a" stroke-width="1.5"/>
<line x1="496.15" y1="519.80" x2="506.15" y2="519.80" stroke="#1a1a1a" stroke-width="1.5"/>
<text x="365.13" y="467.89" font-size="17.3" font-weight="bold" fill="#111">*</text>
<text x="373.73" y="467.89" font-size="17.3" font-weight="bold" fill="#111">*</text>
<text x="382.33" y="467.89" font-size="17.3" font-weight="bold" fill="#111">*</text>
<text x="470.48" y="469.79" font-size="17.3" font-weight="bold" fill="#111">*</text>
<text x="0.93" y="590.95" font-size="25.0" font-weight="bold" text-anchor="start" fill="#000">G</text>
<line x1="52.30" y1="599.10" x2="52.30" y2="708.60" stroke="#1a1a1a" stroke-width="1.2"/>
<line x1="49.80" y1="708.00" x2="52.30" y2="708.00" stroke="#1a1a1a" stroke-width="1.2"/>
<text x="47.70" y="711.71" font-size="9.0" font-weight="normal" text-anchor="end" fill="#1a1a1a" stroke="#1a1a1a" stroke-width="0.25">0</text>
<line x1="49.80" y1="680.92" x2="52.30" y2="680.92" stroke="#1a1a1a" stroke-width="1.2"/>
<text x="47.70" y="684.63" font-size="9.0" font-weight="normal" text-anchor="end" fill="#1a1a1a" stroke="#1a1a1a" stroke-width="0.25">25</text>
<line x1="49.80" y1="653.85" x2="52.30" y2="653.85" stroke="#1a1a1a" stroke-width="1.2"/>
<text x="47.70" y="657.56" font-size="9.0" font-weight="normal" text-anchor="end" fill="#1a1a1a" stroke="#1a1a1a" stroke-width="0.25">50</text>
<line x1="49.80" y1="626.78" x2="52.30" y2="626.78" stroke="#1a1a1a" stroke-width="1.2"/>
<text x="47.70" y="630.48" font-size="9.0" font-weight="normal" text-anchor="end" fill="#1a1a1a" stroke="#1a1a1a" stroke-width="0.25">75</text>
<line x1="49.80" y1="599.70" x2="52.30" y2="599.70" stroke="#1a1a1a" stroke-width="1.2"/>
<text x="47.70" y="603.41" font-size="9.0" font-weight="normal" text-anchor="end" fill="#1a1a1a" stroke="#1a1a1a" stroke-width="0.25">100</text>
<text transform="translate(27.30 695.50) rotate(-90)" x="0" y="0" font-size="10.2" font-weight="bold" textLength="83.00" lengthAdjust="spacingAndGlyphs">Positive cells (%)</text>
<line x1="64.00" y1="720.60" x2="234.00" y2="720.60" stroke="#1a1a1a" stroke-width="1.2"/>
<line x1="71.30" y1="696.70" x2="71.30" y2="699.60" stroke="#1a1a1a" stroke-width="1.0"/>
<line x1="71.30" y1="705.40" x2="71.30" y2="706.00" stroke="#1a1a1a" stroke-width="1.0"/>
<line x1="68.80" y1="696.70" x2="73.80" y2="696.70" stroke="#1a1a1a" stroke-width="1.5"/>
<line x1="68.80" y1="706.00" x2="73.80" y2="706.00" stroke="#1a1a1a" stroke-width="1.5"/>
<rect x="66.30" y="699.60" width="10.00" height="5.80" fill="#ffffff" stroke="#1a1a1a" stroke-width="1.2"/>
<line x1="66.30" y1="702.00" x2="76.30" y2="702.00" stroke="#1a1a1a" stroke-width="1.2"/>
<line x1="66.30" y1="700.60" x2="76.30" y2="700.60" stroke="#1a1a1a" stroke-width="1.0"/>
<line x1="83.65" y1="687.00" x2="83.65" y2="698.80" stroke="#1a1a1a" stroke-width="1.0"/>
<line x1="83.65" y1="705.30" x2="83.65" y2="707.30" stroke="#1a1a1a" stroke-width="1.0"/>
<line x1="81.23" y1="687.00" x2="86.08" y2="687.00" stroke="#1a1a1a" stroke-width="1.5"/>
<line x1="81.23" y1="707.30" x2="86.08" y2="707.30" stroke="#1a1a1a" stroke-width="1.5"/>
<rect x="78.80" y="698.80" width="9.70" height="6.50" fill="#c9c9c9" stroke="#1a1a1a" stroke-width="1.2"/>
<line x1="78.80" y1="700.60" x2="88.50" y2="700.60" stroke="#1a1a1a" stroke-width="1.2"/>
<line x1="78.80" y1="704.00" x2="88.50" y2="704.00" stroke="#1a1a1a" stroke-width="1.0"/>
<line x1="96.05" y1="628.25" x2="96.05" y2="670.30" stroke="#1a1a1a" stroke-width="1.0"/>
<line x1="96.05" y1="687.20" x2="96.05" y2="704.40" stroke="#1a1a1a" stroke-width="1.0"/>
<line x1="93.63" y1="628.25" x2="98.48" y2="628.25" stroke="#1a1a1a" stroke-width="1.5"/>
<line x1="93.63" y1="704.40" x2="98.48" y2="704.40" stroke="#1a1a1a" stroke-width="1.5"/>
<rect x="91.20" y="670.30" width="9.70" height="16.90" fill="#3d3d3d" stroke="#1a1a1a" stroke-width="1.2"/>
<line x1="91.20" y1="675.70" x2="100.90" y2="675.70" stroke="#1a1a1a" stroke-width="1.2"/>
<line x1="91.20" y1="672.30" x2="100.90" y2="672.30" stroke="#1a1a1a" stroke-width="1.0"/>
<line x1="115.30" y1="675.60" x2="115.30" y2="689.60" stroke="#1a1a1a" stroke-width="1.0"/>
<line x1="115.30" y1="701.50" x2="115.30" y2="703.50" stroke="#1a1a1a" stroke-width="1.0"/>
<line x1="112.85" y1="675.60" x2="117.75" y2="675.60" stroke="#1a1a1a" stroke-width="1.5"/>
<line x1="112.85" y1="703.50" x2="117.75" y2="703.50" stroke="#1a1a1a" stroke-width="1.5"/>
<rect x="110.40" y="689.60" width="9.80" height="11.90" fill="#ffffff" stroke="#1a1a1a" stroke-width="1.2"/>
<line x1="110.40" y1="692.90" x2="120.20" y2="692.90" stroke="#1a1a1a" stroke-width="1.2"/>
<line x1="110.40" y1="695.80" x2="120.20" y2="695.80" stroke="#1a1a1a" stroke-width="1.0"/>
<line x1="127.80" y1="659.20" x2="127.80" y2="687.10" stroke="#1a1a1a" stroke-width="1.0"/>
<line x1="127.80" y1="702.00" x2="127.80" y2="706.30" stroke="#1a1a1a" stroke-width="1.0"/>
<line x1="125.35" y1="659.20" x2="130.25" y2="659.20" stroke="#1a1a1a" stroke-width="1.5"/>
<line x1="125.35" y1="706.30" x2="130.25" y2="706.30" stroke="#1a1a1a" stroke-width="1.5"/>
<rect x="122.90" y="687.10" width="9.80" height="14.90" fill="#c9c9c9" stroke="#1a1a1a" stroke-width="1.2"/>
<line x1="122.90" y1="693.30" x2="132.70" y2="693.30" stroke="#1a1a1a" stroke-width="1.2"/>
<line x1="122.90" y1="697.80" x2="132.70" y2="697.80" stroke="#1a1a1a" stroke-width="1.0"/>
<line x1="139.70" y1="608.80" x2="139.70" y2="629.40" stroke="#1a1a1a" stroke-width="1.0"/>
<line x1="139.70" y1="662.00" x2="139.70" y2="705.40" stroke="#1a1a1a" stroke-width="1.0"/>
<line x1="137.05" y1="608.80" x2="142.35" y2="608.80" stroke="#1a1a1a" stroke-width="1.5"/>
<line x1="137.05" y1="705.40" x2="142.35" y2="705.40" stroke="#1a1a1a" stroke-width="1.5"/>
<rect x="134.40" y="629.40" width="10.60" height="32.60" fill="#3d3d3d" stroke="#1a1a1a" stroke-width="1.2"/>
<line x1="134.40" y1="634.40" x2="145.00" y2="634.40" stroke="#1a1a1a" stroke-width="1.2"/>
<line x1="134.40" y1="631.80" x2="145.00" y2="631.80" stroke="#1a1a1a" stroke-width="1.0"/>
<line x1="158.75" y1="689.10" x2="158.75" y2="695.50" stroke="#1a1a1a" stroke-width="1.0"/>
<line x1="158.75" y1="704.60" x2="158.75" y2="704.60" stroke="#1a1a1a" stroke-width="1.0"/>
<line x1="156.32" y1="689.10" x2="161.18" y2="689.10" stroke="#1a1a1a" stroke-width="1.5"/>
<line x1="156.32" y1="704.60" x2="161.18" y2="704.60" stroke="#1a1a1a" stroke-width="1.5"/>
<rect x="153.90" y="695.50" width="9.70" height="9.10" fill="#ffffff" stroke="#1a1a1a" stroke-width="1.2"/>
<line x1="153.90" y1="700.30" x2="163.60" y2="700.30" stroke="#1a1a1a" stroke-width="1.2"/>
<line x1="171.45" y1="675.80" x2="171.45" y2="693.40" stroke="#1a1a1a" stroke-width="1.0"/>
<line x1="171.45" y1="704.60" x2="171.45" y2="707.10" stroke="#1a1a1a" stroke-width="1.0"/>
<line x1="169.02" y1="675.80" x2="173.88" y2="675.80" stroke="#1a1a1a" stroke-width="1.5"/>
<line x1="169.02" y1="707.10" x2="173.88" y2="707.10" stroke="#1a1a1a" stroke-width="1.5"/>
<rect x="166.60" y="693.40" width="9.70" height="11.20" fill="#c9c9c9" stroke="#1a1a1a" stroke-width="1.2"/>
<line x1="166.60" y1="697.40" x2="176.30" y2="697.40" stroke="#1a1a1a" stroke-width="1.2"/>
<line x1="166.60" y1="701.80" x2="176.30" y2="701.80" stroke="#1a1a1a" stroke-width="1.0"/>
<line x1="183.60" y1="625.30" x2="183.60" y2="642.30" stroke="#1a1a1a" stroke-width="1.0"/>
<line x1="183.60" y1="655.70" x2="183.60" y2="684.50" stroke="#1a1a1a" stroke-width="1.0"/>
<line x1="181.00" y1="625.30" x2="186.20" y2="625.30" stroke="#1a1a1a" stroke-width="1.5"/>
<line x1="181.00" y1="684.50" x2="186.20" y2="684.50" stroke="#1a1a1a" stroke-width="1.5"/>
<rect x="178.40" y="642.30" width="10.40" height="13.40" fill="#3d3d3d" stroke="#1a1a1a" stroke-width="1.2"/>
<line x1="178.40" y1="647.50" x2="188.80" y2="647.50" stroke="#1a1a1a" stroke-width="1.2"/>
<line x1="178.40" y1="644.70" x2="188.80" y2="644.70" stroke="#1a1a1a" stroke-width="1.0"/>
<line x1="203.20" y1="698.20" x2="203.20" y2="698.20" stroke="#1a1a1a" stroke-width="1.0"/>
<line x1="203.20" y1="707.10" x2="203.20" y2="707.10" stroke="#1a1a1a" stroke-width="1.0"/>
<line x1="200.75" y1="698.20" x2="205.65" y2="698.20" stroke="#1a1a1a" stroke-width="1.5"/>
<line x1="200.75" y1="707.10" x2="205.65" y2="707.10" stroke="#1a1a1a" stroke-width="1.5"/>
<rect x="198.30" y="698.20" width="9.80" height="8.90" fill="#ffffff" stroke="#1a1a1a" stroke-width="1.2"/>
<line x1="198.30" y1="703.70" x2="208.10" y2="703.70" stroke="#1a1a1a" stroke-width="1.2"/>
<line x1="198.30" y1="700.40" x2="208.10" y2="700.40" stroke="#1a1a1a" stroke-width="1.0"/>
<line x1="215.70" y1="688.50" x2="215.70" y2="697.60" stroke="#1a1a1a" stroke-width="1.0"/>
<line x1="215.70" y1="703.90" x2="215.70" y2="707.10" stroke="#1a1a1a" stroke-width="1.0"/>
<line x1="213.15" y1="688.50" x2="218.25" y2="688.50" stroke="#1a1a1a" stroke-width="1.5"/>
<line x1="213.15" y1="707.10" x2="218.25" y2="707.10" stroke="#1a1a1a" stroke-width="1.5"/>
<rect x="210.60" y="697.60" width="10.20" height="6.30" fill="#c9c9c9" stroke="#1a1a1a" stroke-width="1.2"/>
<line x1="210.60" y1="700.80" x2="220.80" y2="700.80" stroke="#1a1a1a" stroke-width="1.2"/>
<line x1="227.15" y1="648.20" x2="227.15" y2="672.80" stroke="#1a1a1a" stroke-width="1.0"/>
<line x1="227.15" y1="694.80" x2="227.15" y2="703.30" stroke="#1a1a1a" stroke-width="1.0"/>
<line x1="224.82" y1="648.20" x2="229.48" y2="648.20" stroke="#1a1a1a" stroke-width="1.5"/>
<line x1="224.82" y1="703.30" x2="229.48" y2="703.30" stroke="#1a1a1a" stroke-width="1.5"/>
<rect x="222.50" y="672.80" width="9.30" height="22.00" fill="#3d3d3d" stroke="#1a1a1a" stroke-width="1.2"/>
<line x1="222.50" y1="676.50" x2="231.80" y2="676.50" stroke="#1a1a1a" stroke-width="1.2"/>
<line x1="222.50" y1="674.30" x2="231.80" y2="674.30" stroke="#1a1a1a" stroke-width="1.0"/>
<text x="71.13" y="623.79" font-size="17.3" font-weight="bold" fill="#111">*</text>
<text x="79.73" y="623.79" font-size="17.3" font-weight="bold" fill="#111">*</text>
<text x="88.33" y="623.79" font-size="17.3" font-weight="bold" fill="#111">*</text>
<text x="114.18" y="606.39" font-size="17.3" font-weight="bold" fill="#111">*</text>
<text x="122.78" y="606.39" font-size="17.3" font-weight="bold" fill="#111">*</text>
<text x="131.38" y="606.39" font-size="17.3" font-weight="bold" fill="#111">*</text>
<text x="158.03" y="623.29" font-size="17.3" font-weight="bold" fill="#111">*</text>
<text x="166.63" y="623.29" font-size="17.3" font-weight="bold" fill="#111">*</text>
<text x="175.23" y="623.29" font-size="17.3" font-weight="bold" fill="#111">*</text>
<text x="201.03" y="645.29" font-size="17.3" font-weight="bold" fill="#111">*</text>
<text x="209.63" y="645.29" font-size="17.3" font-weight="bold" fill="#111">*</text>
<text x="218.23" y="645.29" font-size="17.3" font-weight="bold" fill="#111">*</text>
<text x="285.52" y="591.30" font-size="25.0" font-weight="bold" text-anchor="start" fill="#000">H</text>
<line x1="333.20" y1="598.90" x2="333.20" y2="721.10" stroke="#1a1a1a" stroke-width="1.2"/>
<line x1="330.70" y1="720.50" x2="333.20" y2="720.50" stroke="#1a1a1a" stroke-width="1.2"/>
<text x="328.20" y="724.21" font-size="9.0" font-weight="normal" text-anchor="end" fill="#1a1a1a" stroke="#1a1a1a" stroke-width="0.25">0</text>
<line x1="330.70" y1="696.30" x2="333.20" y2="696.30" stroke="#1a1a1a" stroke-width="1.2"/>
<text x="328.20" y="700.00" font-size="9.0" font-weight="normal" text-anchor="end" fill="#1a1a1a" stroke="#1a1a1a" stroke-width="0.25">100</text>
<line x1="330.70" y1="672.10" x2="333.20" y2="672.10" stroke="#1a1a1a" stroke-width="1.2"/>
<text x="328.20" y="675.81" font-size="9.0" font-weight="normal" text-anchor="end" fill="#1a1a1a" stroke="#1a1a1a" stroke-width="0.25">200</text>
<line x1="330.70" y1="647.90" x2="333.20" y2="647.90" stroke="#1a1a1a" stroke-width="1.2"/>
<text x="328.20" y="651.61" font-size="9.0" font-weight="normal" text-anchor="end" fill="#1a1a1a" stroke="#1a1a1a" stroke-width="0.25">300</text>
<line x1="330.70" y1="623.70" x2="333.20" y2="623.70" stroke="#1a1a1a" stroke-width="1.2"/>
<text x="328.20" y="627.41" font-size="9.0" font-weight="normal" text-anchor="end" fill="#1a1a1a" stroke="#1a1a1a" stroke-width="0.25">400</text>
<line x1="330.70" y1="599.50" x2="333.20" y2="599.50" stroke="#1a1a1a" stroke-width="1.2"/>
<text x="328.20" y="603.21" font-size="9.0" font-weight="normal" text-anchor="end" fill="#1a1a1a" stroke="#1a1a1a" stroke-width="0.25">500</text>
<g transform="translate(306.50 692.80) rotate(-90)"><text x="0" y="0" font-size="10.2" font-weight="bold" textLength="61.50" lengthAdjust="spacingAndGlyphs">MESF U x 10</text><text x="62.10" y="-4.60" font-size="6.5" font-weight="bold">4</text></g>
<line x1="330.50" y1="720.50" x2="514.80" y2="720.50" stroke="#1a1a1a" stroke-width="1.2"/>
<rect x="335.40" y="688.10" width="10.60" height="32.40" fill="#ffffff" stroke="#1a1a1a" stroke-width="1.2"/>
<line x1="340.70" y1="681.30" x2="340.70" y2="694.80" stroke="#1a1a1a" stroke-width="1.15"/>
<line x1="338.05" y1="681.30" x2="343.35" y2="681.30" stroke="#1a1a1a" stroke-width="1.5"/>
<line x1="338.05" y1="694.80" x2="343.35" y2="694.80" stroke="#1a1a1a" stroke-width="1.5"/>
<rect x="348.50" y="679.80" width="10.50" height="40.70" fill="#c9c9c9" stroke="#1a1a1a" stroke-width="1.2"/>
<line x1="353.75" y1="675.60" x2="353.75" y2="683.30" stroke="#1a1a1a" stroke-width="1.15"/>
<line x1="351.12" y1="675.60" x2="356.38" y2="675.60" stroke="#1a1a1a" stroke-width="1.5"/>
<line x1="351.12" y1="683.30" x2="356.38" y2="683.30" stroke="#1a1a1a" stroke-width="1.5"/>
<rect x="361.30" y="668.30" width="10.70" height="52.20" fill="#3d3d3d" stroke="#1a1a1a" stroke-width="1.2"/>
<line x1="366.65" y1="661.50" x2="366.65" y2="675.60" stroke="#1a1a1a" stroke-width="1.15"/>
<line x1="363.97" y1="661.50" x2="369.32" y2="661.50" stroke="#1a1a1a" stroke-width="1.5"/>
<line x1="363.97" y1="675.60" x2="369.32" y2="675.60" stroke="#1a1a1a" stroke-width="1.5"/>
<rect x="381.50" y="682.30" width="11.20" height="38.20" fill="#ffffff" stroke="#1a1a1a" stroke-width="1.2"/>
<line x1="387.10" y1="675.60" x2="387.10" y2="688.50" stroke="#1a1a1a" stroke-width="1.15"/>
<line x1="384.30" y1="675.60" x2="389.90" y2="675.60" stroke="#1a1a1a" stroke-width="1.5"/>
<line x1="384.30" y1="688.50" x2="389.90" y2="688.50" stroke="#1a1a1a" stroke-width="1.5"/>
<rect x="395.00" y="682.30" width="10.00" height="38.20" fill="#c9c9c9" stroke="#1a1a1a" stroke-width="1.2"/>
<line x1="400.00" y1="676.50" x2="400.00" y2="688.50" stroke="#1a1a1a" stroke-width="1.15"/>
<line x1="397.50" y1="676.50" x2="402.50" y2="676.50" stroke="#1a1a1a" stroke-width="1.5"/>
<line x1="397.50" y1="688.50" x2="402.50" y2="688.50" stroke="#1a1a1a" stroke-width="1.5"/>
<rect x="407.50" y="656.00" width="11.00" height="64.50" fill="#3d3d3d" stroke="#1a1a1a" stroke-width="1.2"/>
<line x1="413.00" y1="644.20" x2="413.00" y2="668.50" stroke="#1a1a1a" stroke-width="1.15"/>
<line x1="410.25" y1="644.20" x2="415.75" y2="644.20" stroke="#1a1a1a" stroke-width="1.5"/>
<line x1="410.25" y1="668.50" x2="415.75" y2="668.50" stroke="#1a1a1a" stroke-width="1.5"/>
<rect x="428.30" y="701.50" width="10.90" height="19.00" fill="#ffffff" stroke="#1a1a1a" stroke-width="1.2"/>
<line x1="433.75" y1="698.30" x2="433.75" y2="704.40" stroke="#1a1a1a" stroke-width="1.15"/>
<line x1="431.02" y1="698.30" x2="436.48" y2="698.30" stroke="#1a1a1a" stroke-width="1.5"/>
<line x1="431.02" y1="704.40" x2="436.48" y2="704.40" stroke="#1a1a1a" stroke-width="1.5"/>
<rect x="441.20" y="699.60" width="10.50" height="20.90" fill="#c9c9c9" stroke="#1a1a1a" stroke-width="1.2"/>
<line x1="446.45" y1="696.70" x2="446.45" y2="701.90" stroke="#1a1a1a" stroke-width="1.15"/>
<line x1="443.82" y1="696.70" x2="449.07" y2="696.70" stroke="#1a1a1a" stroke-width="1.5"/>
<line x1="443.82" y1="701.90" x2="449.07" y2="701.90" stroke="#1a1a1a" stroke-width="1.5"/>
<rect x="454.20" y="686.20" width="11.00" height="34.30" fill="#3d3d3d" stroke="#1a1a1a" stroke-width="1.2"/>
<line x1="459.70" y1="682.30" x2="459.70" y2="691.00" stroke="#1a1a1a" stroke-width="1.15"/>
<line x1="456.95" y1="682.30" x2="462.45" y2="682.30" stroke="#1a1a1a" stroke-width="1.5"/>
<line x1="456.95" y1="691.00" x2="462.45" y2="691.00" stroke="#1a1a1a" stroke-width="1.5"/>
<rect x="474.20" y="709.60" width="11.20" height="10.90" fill="#ffffff" stroke="#1a1a1a" stroke-width="1.2"/>
<line x1="479.80" y1="707.70" x2="479.80" y2="711.50" stroke="#1a1a1a" stroke-width="1.15"/>
<line x1="477.00" y1="707.70" x2="482.60" y2="707.70" stroke="#1a1a1a" stroke-width="1.5"/>
<line x1="477.00" y1="711.50" x2="482.60" y2="711.50" stroke="#1a1a1a" stroke-width="1.5"/>
<rect x="487.30" y="703.50" width="11.20" height="17.00" fill="#c9c9c9" stroke="#1a1a1a" stroke-width="1.2"/>
<line x1="492.90" y1="701.50" x2="492.90" y2="705.40" stroke="#1a1a1a" stroke-width="1.15"/>
<line x1="490.10" y1="701.50" x2="495.70" y2="701.50" stroke="#1a1a1a" stroke-width="1.5"/>
<line x1="490.10" y1="705.40" x2="495.70" y2="705.40" stroke="#1a1a1a" stroke-width="1.5"/>
<rect x="500.40" y="703.50" width="10.40" height="17.00" fill="#3d3d3d" stroke="#1a1a1a" stroke-width="1.2"/>
<line x1="505.60" y1="701.50" x2="505.60" y2="705.40" stroke="#1a1a1a" stroke-width="1.15"/>
<line x1="503.00" y1="701.50" x2="508.20" y2="701.50" stroke="#1a1a1a" stroke-width="1.5"/>
<line x1="503.00" y1="705.40" x2="508.20" y2="705.40" stroke="#1a1a1a" stroke-width="1.5"/>
<text x="443.73" y="678.99" font-size="17.3" font-weight="bold" fill="#111">*</text>
<text x="4.33" y="793.30" font-size="25.0" font-weight="bold" text-anchor="start" fill="#000">I</text>
<line x1="51.20" y1="803.60" x2="51.20" y2="914.00" stroke="#1a1a1a" stroke-width="1.2"/>
<line x1="48.70" y1="913.40" x2="51.20" y2="913.40" stroke="#1a1a1a" stroke-width="1.2"/>
<text x="46.60" y="917.11" font-size="9.0" font-weight="normal" text-anchor="end" fill="#1a1a1a" stroke="#1a1a1a" stroke-width="0.25">0</text>
<line x1="48.70" y1="886.10" x2="51.20" y2="886.10" stroke="#1a1a1a" stroke-width="1.2"/>
<text x="46.60" y="889.81" font-size="9.0" font-weight="normal" text-anchor="end" fill="#1a1a1a" stroke="#1a1a1a" stroke-width="0.25">25</text>
<line x1="48.70" y1="858.80" x2="51.20" y2="858.80" stroke="#1a1a1a" stroke-width="1.2"/>
<text x="46.60" y="862.50" font-size="9.0" font-weight="normal" text-anchor="end" fill="#1a1a1a" stroke="#1a1a1a" stroke-width="0.25">50</text>
<line x1="48.70" y1="831.50" x2="51.20" y2="831.50" stroke="#1a1a1a" stroke-width="1.2"/>
<text x="46.60" y="835.21" font-size="9.0" font-weight="normal" text-anchor="end" fill="#1a1a1a" stroke="#1a1a1a" stroke-width="0.25">75</text>
<line x1="48.70" y1="804.20" x2="51.20" y2="804.20" stroke="#1a1a1a" stroke-width="1.2"/>
<text x="46.60" y="807.91" font-size="9.0" font-weight="normal" text-anchor="end" fill="#1a1a1a" stroke="#1a1a1a" stroke-width="0.25">100</text>
<text transform="translate(27.00 900.60) rotate(-90)" x="0" y="0" font-size="10.2" font-weight="bold" textLength="82.50" lengthAdjust="spacingAndGlyphs">Positive cells (%)</text>
<line x1="62.50" y1="926.20" x2="233.00" y2="926.20" stroke="#1a1a1a" stroke-width="1.2"/>
<line x1="77.88" y1="807.50" x2="77.88" y2="813.75" stroke="#1a1a1a" stroke-width="1.0"/>
<line x1="77.88" y1="828.00" x2="77.88" y2="836.25" stroke="#1a1a1a" stroke-width="1.0"/>
<line x1="73.06" y1="807.50" x2="82.69" y2="807.50" stroke="#1a1a1a" stroke-width="1.5"/>
<line x1="73.06" y1="836.25" x2="82.69" y2="836.25" stroke="#1a1a1a" stroke-width="1.5"/>
<rect x="68.25" y="813.75" width="19.25" height="14.25" fill="#ffffff" stroke="#1a1a1a" stroke-width="1.2"/>
<line x1="68.25" y1="821.25" x2="87.50" y2="821.25" stroke="#1a1a1a" stroke-width="1.2"/>
<line x1="103.50" y1="807.50" x2="103.50" y2="815.00" stroke="#1a1a1a" stroke-width="1.0"/>
<line x1="103.50" y1="834.25" x2="103.50" y2="840.00" stroke="#1a1a1a" stroke-width="1.0"/>
<line x1="98.62" y1="807.50" x2="108.38" y2="807.50" stroke="#1a1a1a" stroke-width="1.5"/>
<line x1="98.62" y1="840.00" x2="108.38" y2="840.00" stroke="#1a1a1a" stroke-width="1.5"/>
<rect x="93.75" y="815.00" width="19.50" height="19.25" fill="#c9c9c9" stroke="#1a1a1a" stroke-width="1.2"/>
<line x1="93.75" y1="825.00" x2="113.25" y2="825.00" stroke="#1a1a1a" stroke-width="1.2"/>
<line x1="128.25" y1="805.00" x2="128.25" y2="809.50" stroke="#1a1a1a" stroke-width="1.0"/>
<line x1="128.25" y1="833.25" x2="128.25" y2="838.00" stroke="#1a1a1a" stroke-width="1.0"/>
<line x1="123.25" y1="805.00" x2="133.25" y2="805.00" stroke="#1a1a1a" stroke-width="1.5"/>
<line x1="123.25" y1="838.00" x2="133.25" y2="838.00" stroke="#1a1a1a" stroke-width="1.5"/>
<rect x="118.25" y="809.50" width="20.00" height="23.75" fill="#3d3d3d" stroke="#1a1a1a" stroke-width="1.2"/>
<line x1="118.25" y1="815.75" x2="138.25" y2="815.75" stroke="#1a1a1a" stroke-width="1.2"/>
<line x1="168.25" y1="812.50" x2="168.25" y2="830.75" stroke="#1a1a1a" stroke-width="1.0"/>
<line x1="168.25" y1="848.75" x2="168.25" y2="858.00" stroke="#1a1a1a" stroke-width="1.0"/>
<line x1="163.25" y1="812.50" x2="173.25" y2="812.50" stroke="#1a1a1a" stroke-width="1.5"/>
<line x1="163.25" y1="858.00" x2="173.25" y2="858.00" stroke="#1a1a1a" stroke-width="1.5"/>
<rect x="158.25" y="830.75" width="20.00" height="18.00" fill="#ffffff" stroke="#1a1a1a" stroke-width="1.2"/>
<line x1="158.25" y1="841.25" x2="178.25" y2="841.25" stroke="#1a1a1a" stroke-width="1.2"/>
<line x1="193.12" y1="807.50" x2="193.12" y2="822.00" stroke="#1a1a1a" stroke-width="1.0"/>
<line x1="193.12" y1="843.00" x2="193.12" y2="855.50" stroke="#1a1a1a" stroke-width="1.0"/>
<line x1="188.06" y1="807.50" x2="198.19" y2="807.50" stroke="#1a1a1a" stroke-width="1.5"/>
<line x1="188.06" y1="855.50" x2="198.19" y2="855.50" stroke="#1a1a1a" stroke-width="1.5"/>
<rect x="183.00" y="822.00" width="20.25" height="21.00" fill="#c9c9c9" stroke="#1a1a1a" stroke-width="1.2"/>
<line x1="183.00" y1="831.25" x2="203.25" y2="831.25" stroke="#1a1a1a" stroke-width="1.2"/>
<line x1="218.12" y1="808.75" x2="218.12" y2="826.25" stroke="#1a1a1a" stroke-width="1.0"/>
<line x1="218.12" y1="840.00" x2="218.12" y2="851.25" stroke="#1a1a1a" stroke-width="1.0"/>
<line x1="213.06" y1="808.75" x2="223.19" y2="808.75" stroke="#1a1a1a" stroke-width="1.5"/>
<line x1="213.06" y1="851.25" x2="223.19" y2="851.25" stroke="#1a1a1a" stroke-width="1.5"/>
<rect x="208.00" y="826.25" width="20.25" height="13.75" fill="#3d3d3d" stroke="#1a1a1a" stroke-width="1.2"/>
<line x1="208.00" y1="836.25" x2="228.25" y2="836.25" stroke="#1a1a1a" stroke-width="1.2"/>
<text x="284.45" y="796.45" font-size="25.0" font-weight="bold" text-anchor="start" fill="#000">J</text>
<line x1="334.80" y1="802.20" x2="334.80" y2="925.90" stroke="#1a1a1a" stroke-width="1.2"/>
<line x1="332.30" y1="925.30" x2="334.80" y2="925.30" stroke="#1a1a1a" stroke-width="1.2"/>
<text x="331.10" y="929.00" font-size="9.0" font-weight="normal" text-anchor="end" fill="#1a1a1a" stroke="#1a1a1a" stroke-width="0.25">0</text>
<line x1="332.30" y1="904.88" x2="334.80" y2="904.88" stroke="#1a1a1a" stroke-width="1.2"/>
<text x="331.10" y="908.59" font-size="9.0" font-weight="normal" text-anchor="end" fill="#1a1a1a" stroke="#1a1a1a" stroke-width="0.25">100</text>
<line x1="332.30" y1="884.46" x2="334.80" y2="884.46" stroke="#1a1a1a" stroke-width="1.2"/>
<text x="331.10" y="888.16" font-size="9.0" font-weight="normal" text-anchor="end" fill="#1a1a1a" stroke="#1a1a1a" stroke-width="0.25">200</text>
<line x1="332.30" y1="864.04" x2="334.80" y2="864.04" stroke="#1a1a1a" stroke-width="1.2"/>
<text x="331.10" y="867.75" font-size="9.0" font-weight="normal" text-anchor="end" fill="#1a1a1a" stroke="#1a1a1a" stroke-width="0.25">300</text>
<line x1="332.30" y1="843.62" x2="334.80" y2="843.62" stroke="#1a1a1a" stroke-width="1.2"/>
<text x="331.10" y="847.32" font-size="9.0" font-weight="normal" text-anchor="end" fill="#1a1a1a" stroke="#1a1a1a" stroke-width="0.25">400</text>
<line x1="332.30" y1="823.20" x2="334.80" y2="823.20" stroke="#1a1a1a" stroke-width="1.2"/>
<text x="331.10" y="826.90" font-size="9.0" font-weight="normal" text-anchor="end" fill="#1a1a1a" stroke="#1a1a1a" stroke-width="0.25">500</text>
<line x1="332.30" y1="802.78" x2="334.80" y2="802.78" stroke="#1a1a1a" stroke-width="1.2"/>
<text x="331.10" y="806.49" font-size="9.0" font-weight="normal" text-anchor="end" fill="#1a1a1a" stroke="#1a1a1a" stroke-width="0.25">600</text>
<g transform="translate(312.00 896.80) rotate(-90)"><text x="0" y="0" font-size="10.2" font-weight="bold" textLength="61.50" lengthAdjust="spacingAndGlyphs">MESF U x 10</text><text x="62.10" y="-4.60" font-size="6.5" font-weight="bold">4</text></g>
<line x1="332.50" y1="925.30" x2="516.00" y2="925.30" stroke="#1a1a1a" stroke-width="1.2"/>
<rect x="340.00" y="873.25" width="22.00" height="52.05" fill="#ffffff" stroke="#1a1a1a" stroke-width="1.2"/>
<line x1="351.00" y1="856.25" x2="351.00" y2="890.75" stroke="#1a1a1a" stroke-width="1.15"/>
<line x1="346.00" y1="856.25" x2="356.00" y2="856.25" stroke="#1a1a1a" stroke-width="1.5"/>
<line x1="346.00" y1="890.75" x2="356.00" y2="890.75" stroke="#1a1a1a" stroke-width="1.5"/>
<rect x="367.00" y="872.50" width="21.75" height="52.80" fill="#c9c9c9" stroke="#1a1a1a" stroke-width="1.2"/>
<line x1="377.88" y1="858.25" x2="377.88" y2="888.00" stroke="#1a1a1a" stroke-width="1.15"/>
<line x1="372.88" y1="858.25" x2="382.88" y2="858.25" stroke="#1a1a1a" stroke-width="1.5"/>
<line x1="372.88" y1="888.00" x2="382.88" y2="888.00" stroke="#1a1a1a" stroke-width="1.5"/>
<rect x="394.25" y="837.00" width="21.25" height="88.30" fill="#3d3d3d" stroke="#1a1a1a" stroke-width="1.2"/>
<line x1="404.88" y1="810.50" x2="404.88" y2="864.25" stroke="#1a1a1a" stroke-width="1.15"/>
<line x1="399.88" y1="810.50" x2="409.88" y2="810.50" stroke="#1a1a1a" stroke-width="1.5"/>
<line x1="399.88" y1="864.25" x2="409.88" y2="864.25" stroke="#1a1a1a" stroke-width="1.5"/>
<rect x="436.90" y="882.30" width="21.60" height="43.00" fill="#ffffff" stroke="#1a1a1a" stroke-width="1.2"/>
<line x1="447.70" y1="865.00" x2="447.70" y2="898.30" stroke="#1a1a1a" stroke-width="1.15"/>
<line x1="442.70" y1="865.00" x2="452.70" y2="865.00" stroke="#1a1a1a" stroke-width="1.5"/>
<line x1="442.70" y1="898.30" x2="452.70" y2="898.30" stroke="#1a1a1a" stroke-width="1.5"/>
<rect x="463.80" y="847.70" width="21.60" height="77.60" fill="#c9c9c9" stroke="#1a1a1a" stroke-width="1.2"/>
<line x1="474.60" y1="818.00" x2="474.60" y2="876.20" stroke="#1a1a1a" stroke-width="1.15"/>
<line x1="469.60" y1="818.00" x2="479.60" y2="818.00" stroke="#1a1a1a" stroke-width="1.5"/>
<line x1="469.60" y1="876.20" x2="479.60" y2="876.20" stroke="#1a1a1a" stroke-width="1.5"/>
<rect x="490.60" y="833.80" width="21.10" height="91.50" fill="#3d3d3d" stroke="#1a1a1a" stroke-width="1.2"/>
<line x1="501.15" y1="806.50" x2="501.15" y2="861.20" stroke="#1a1a1a" stroke-width="1.15"/>
<line x1="496.15" y1="806.50" x2="506.15" y2="806.50" stroke="#1a1a1a" stroke-width="1.5"/>
<line x1="496.15" y1="861.20" x2="506.15" y2="861.20" stroke="#1a1a1a" stroke-width="1.5"/>
<text x="365.63" y="807.69" font-size="17.3" font-weight="bold" fill="#111">*</text>
<text x="374.23" y="807.69" font-size="17.3" font-weight="bold" fill="#111">*</text>
<text x="382.83" y="807.69" font-size="17.3" font-weight="bold" fill="#111">*</text>
<text x="466.73" y="808.09" font-size="17.3" font-weight="bold" fill="#111">*</text>
<text x="475.33" y="808.09" font-size="17.3" font-weight="bold" fill="#111">*</text>
<text x="78.00" y="166.60" font-size="12.0" font-weight="bold" text-anchor="start" textLength="24.00" lengthAdjust="spacingAndGlyphs" fill="#111" stroke="#111" stroke-width="0.2">delta</text>
<text x="138.00" y="166.60" font-size="12.0" font-weight="bold" text-anchor="start" textLength="22.00" lengthAdjust="spacingAndGlyphs" fill="#111" stroke="#111" stroke-width="0.2">MB1</text>
<text x="197.00" y="166.60" font-size="12.0" font-weight="bold" text-anchor="start" textLength="20.00" lengthAdjust="spacingAndGlyphs" fill="#111" stroke="#111" stroke-width="0.2">zeta</text>
<text x="353.75" y="168.30" font-size="12.0" font-weight="bold" text-anchor="start" textLength="24.25" lengthAdjust="spacingAndGlyphs" fill="#111" stroke="#111" stroke-width="0.2">delta</text>
<text x="410.00" y="168.30" font-size="12.0" font-weight="bold" text-anchor="start" textLength="20.00" lengthAdjust="spacingAndGlyphs" fill="#111" stroke="#111" stroke-width="0.2">MB1</text>
<text x="477.00" y="168.30" font-size="12.0" font-weight="bold" text-anchor="start" textLength="19.30" lengthAdjust="spacingAndGlyphs" fill="#111" stroke="#111" stroke-width="0.2">zeta</text>
<text x="77.50" y="357.80" font-size="12.0" font-weight="bold" text-anchor="start" textLength="27.50" lengthAdjust="spacingAndGlyphs" fill="#111" stroke="#111" stroke-width="0.2">LMP2</text>
<text x="135.00" y="357.80" font-size="12.0" font-weight="bold" text-anchor="start" textLength="27.50" lengthAdjust="spacingAndGlyphs" fill="#111" stroke="#111" stroke-width="0.2">LMP7</text>
<text x="192.00" y="357.80" font-size="12.0" font-weight="bold" text-anchor="start" textLength="31.75" lengthAdjust="spacingAndGlyphs" fill="#111" stroke="#111" stroke-width="0.2">LMP10</text>
<text x="349.00" y="357.60" font-size="12.0" font-weight="bold" text-anchor="start" textLength="27.00" lengthAdjust="spacingAndGlyphs" fill="#111" stroke="#111" stroke-width="0.2">LMP2</text>
<text x="412.00" y="357.60" font-size="12.0" font-weight="bold" text-anchor="start" textLength="26.00" lengthAdjust="spacingAndGlyphs" fill="#111" stroke="#111" stroke-width="0.2">LMP7</text>
<text x="472.70" y="357.60" font-size="12.0" font-weight="bold" text-anchor="start" textLength="32.30" lengthAdjust="spacingAndGlyphs" fill="#111" stroke="#111" stroke-width="0.2">LMP10</text>
<text x="91.50" y="546.30" font-size="12.0" font-weight="bold" text-anchor="start" textLength="30.00" lengthAdjust="spacingAndGlyphs" fill="#111" stroke="#111" stroke-width="0.2">TAP1</text>
<text x="180.00" y="546.30" font-size="12.0" font-weight="bold" text-anchor="start" textLength="28.00" lengthAdjust="spacingAndGlyphs" fill="#111" stroke="#111" stroke-width="0.2">TAP2</text>
<text x="366.00" y="548.00" font-size="12.0" font-weight="bold" text-anchor="start" textLength="25.00" lengthAdjust="spacingAndGlyphs" fill="#111" stroke="#111" stroke-width="0.2">TAP1</text>
<text x="462.00" y="548.00" font-size="12.0" font-weight="bold" text-anchor="start" textLength="26.30" lengthAdjust="spacingAndGlyphs" fill="#111" stroke="#111" stroke-width="0.2">TAP2</text>
<text x="66.20" y="737.80" font-size="12.0" font-weight="bold" text-anchor="start" textLength="36.50" lengthAdjust="spacingAndGlyphs" fill="#111" stroke="#111" stroke-width="0.2">tapasin</text>
<text x="102.70" y="752.80" font-size="12.0" font-weight="bold" text-anchor="start" textLength="41.00" lengthAdjust="spacingAndGlyphs" fill="#111" stroke="#111" stroke-width="0.2">calnexin</text>
<text x="144.80" y="737.80" font-size="12.0" font-weight="bold" text-anchor="start" textLength="53.90" lengthAdjust="spacingAndGlyphs" fill="#111" stroke="#111" stroke-width="0.2">calreticulin</text>
<text x="200.00" y="752.80" font-size="12.0" font-weight="bold" text-anchor="start" textLength="31.30" lengthAdjust="spacingAndGlyphs" fill="#111" stroke="#111" stroke-width="0.2">ERp57</text>
<text x="335.80" y="737.80" font-size="12.0" font-weight="bold" text-anchor="start" textLength="36.10" lengthAdjust="spacingAndGlyphs" fill="#111" stroke="#111" stroke-width="0.2">tapasin</text>
<text x="375.80" y="752.80" font-size="12.0" font-weight="bold" text-anchor="start" textLength="41.10" lengthAdjust="spacingAndGlyphs" fill="#111" stroke="#111" stroke-width="0.2">calnexin</text>
<text x="421.00" y="737.80" font-size="12.0" font-weight="bold" text-anchor="start" textLength="54.40" lengthAdjust="spacingAndGlyphs" fill="#111" stroke="#111" stroke-width="0.2">calreticulin</text>
<text x="478.70" y="752.80" font-size="12.0" font-weight="bold" text-anchor="start" textLength="31.30" lengthAdjust="spacingAndGlyphs" fill="#111" stroke="#111" stroke-width="0.2">ERp57</text>
<text x="76.20" y="942.60" font-size="12.0" font-weight="bold" text-anchor="start" textLength="54.20" lengthAdjust="spacingAndGlyphs" fill="#111" stroke="#111" stroke-width="0.2">HLA class I</text>
<text x="181.00" y="942.60" font-size="12.0" font-weight="bold" text-anchor="start" textLength="27.00" lengthAdjust="spacingAndGlyphs" fill="#111" stroke="#111" stroke-width="0.2">&#946;2-m</text>
<text x="351.25" y="942.30" font-size="12.0" font-weight="bold" text-anchor="start" textLength="53.75" lengthAdjust="spacingAndGlyphs" fill="#111" stroke="#111" stroke-width="0.2">HLA class I</text>
<text x="463.30" y="941.80" font-size="12.0" font-weight="bold" text-anchor="start" textLength="25.00" lengthAdjust="spacingAndGlyphs" fill="#111" stroke="#111" stroke-width="0.2">&#946;2-m</text>
</svg>
</body></html>
